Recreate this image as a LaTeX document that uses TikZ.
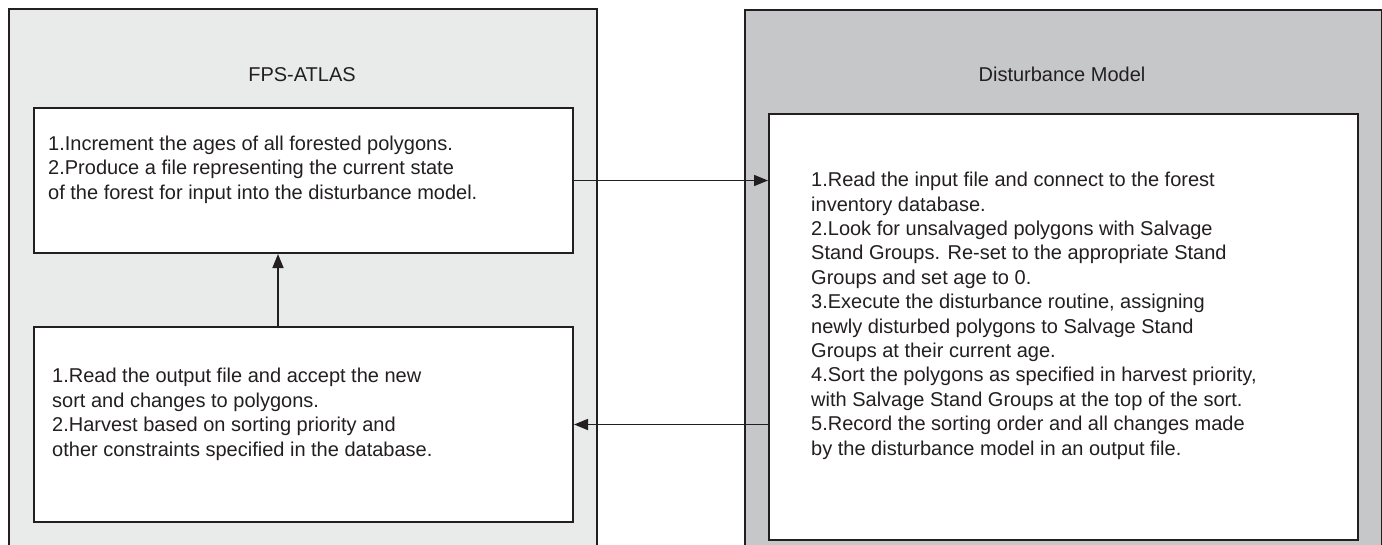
\documentclass[tikz,border=0pt]{standalone}
\usepackage{fontspec}
\setmainfont{Liberation Sans}
\usetikzlibrary{arrows.meta}
\definecolor{atlasgray}{HTML}{E9EAEA}
\definecolor{distgray}{HTML}{C6C7C8}
\definecolor{ink}{HTML}{231F20}
\tikzset{
	panel/.style={draw=ink,line width=2pt,anchor=north west,inner sep=0pt},
	stepbox/.style={draw=ink,fill=white,line width=2pt,anchor=north west,inner sep=0pt},
	steptext/.style={anchor=base west,align=left,inner sep=0pt,text=ink,font=\fontsize{20}{24.4}\selectfont},
	title/.style={text=ink,font=\fontsize{20}{24}\selectfont},
	link/.style={draw=ink,line width=1.6pt,-{Triangle[length=14pt,width=11pt]}}
}
\begin{document}
\begin{tikzpicture}[x=1pt,y=-1pt]
		\useasboundingbox (0,0) rectangle (1382,544);
		\clip (0,0) rectangle (1382,544);
		%panels
		\node[panel,fill=atlasgray,minimum width=588,minimum height=580] (atlas) at (8,8) {};
		\node[panel,fill=distgray,minimum width=637,minimum height=580] (dist) at (744,9) {};
		\node[title] (atlastitle) at (302,74.5) {FPS-ATLAS};
		\node[title] (disttitle) at (1062,74.5) {Disturbance Model};
		
		%steps
		\node[stepbox,minimum width=539,minimum height=145] (incr) at (33,107) {};
		\node[stepbox,minimum width=539,minimum height=195] (harv) at (33,326) {};
		\node[stepbox,minimum width=589,minimum height=426] (sort) at (768,113) {};
		
		%base = last line
		\node[steptext] (incrtext) at (48,199) {1.Increment the ages of all forested polygons.\\
			2.Produce a file representing the current state\\
			of the forest for input into the disturbance model.};
		\node[steptext] (harvtext) at (52,456) {1.Read the output file and accept the new\\
			sort and changes to polygons.\\
			2.Harvest based on sorting priority and\\
			other constraints specified in the database.};
		\node[steptext] (sorttext) at (811,455) {1.Read the input file and connect to the forest\\
			inventory database.\\
			2.Look for unsalvaged polygons with Salvage\\
			Stand Groups. Re-set to the appropriate Stand\\
			Groups and set age to 0.\\
			3.Execute the disturbance routine, assigning\\
			newly disturbed polygons to Salvage Stand\\
			Groups at their current age.\\
			4.Sort the polygons as specified in harvest priority,\\
			with Salvage Stand Groups at the top of the sort.\\
			5.Record the sorting order and all changes made\\
			by the disturbance model in an output file.};
		
		%links
		\draw[link] (incr.east) -- (incr.east -| sort.west);
		\draw[link] (sort.west |- harv.east) -- (harv.east);
		\draw[link] ([xshift=245]harv.north west) -- ([xshift=245]incr.south west);
	\end{tikzpicture}
\end{document}
